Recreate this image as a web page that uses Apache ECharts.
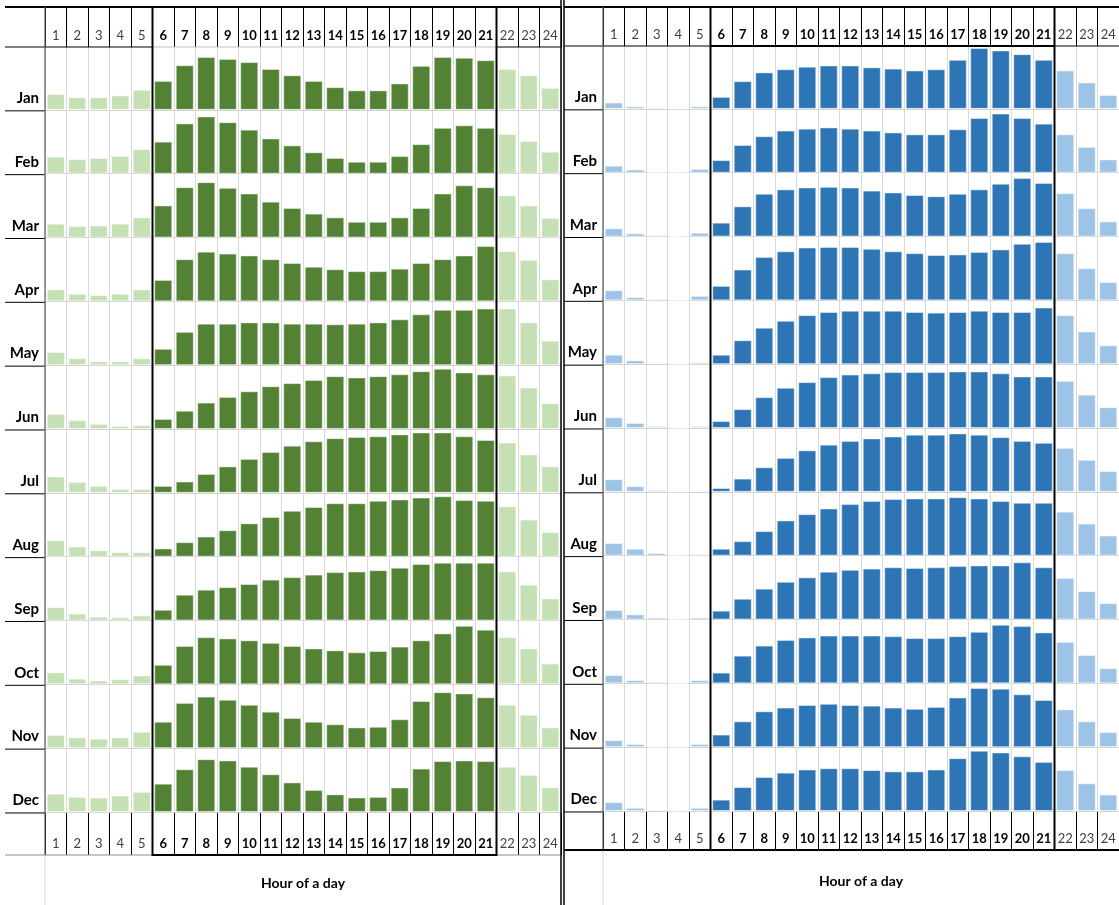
<!DOCTYPE html>
<html>
<head>
<meta charset="utf-8">
<title>Hour of a day by month</title>
<script src="https://cdn.jsdelivr.net/npm/echarts@6/dist/echarts.min.js"></script>
<style>
html, body { margin: 0; padding: 0; background: #fff; }
#chart { width: 1119px; height: 905px; }
</style>
</head>
<body>
<div id="chart"></div>
<script>
// hour labels and month names
var hours = ['1','2','3','4','5','6','7','8','9','10','11','12','13','14','15','16','17','18','19','20','21','22','23','24'];
var months = ['Jan','Feb','Mar','Apr','May','Jun','Jul','Aug','Sep','Oct','Nov','Dec'];
var peakFrom = 6, peakTo = 21;

// left panel (green), share of cell height
var greenJan = [25,20,20,23,32,46,71,84,81,76,65,55,46,36,31,31,42,70,84,83,79,65,55,35];
var greenFeb = [27,23,25,28,39,51,80,91,82,70,56,45,34,25,19,19,28,47,73,77,73,63,52,35];
var greenMar = [22,18,19,22,32,51,80,88,79,70,57,47,38,32,25,25,32,47,70,83,80,67,51,31];
var greenApr = [19,12,10,12,19,34,67,79,76,73,67,61,55,51,48,48,52,61,67,73,88,80,66,35];
var greenMay = [21,11,6,6,11,26,53,66,66,68,68,66,66,65,66,68,73,81,88,88,90,90,68,39];
var greenJun = [24,14,8,5,6,16,29,42,51,60,68,73,78,84,82,84,87,92,96,90,87,85,66,41];
var greenJul = [26,17,11,6,6,11,18,30,42,54,65,75,82,87,89,90,93,96,96,90,84,80,61,42];
var greenAug = [26,16,10,7,7,13,23,32,42,53,63,73,79,85,85,89,91,94,96,90,89,80,59,39];
var greenSep = [21,11,6,5,8,17,41,49,53,58,65,69,73,77,78,80,84,90,92,92,92,78,57,35];
var greenOct = [19,9,6,8,14,31,61,75,73,70,66,61,57,54,51,53,60,70,81,93,87,75,57,33];
var greenNov = [21,17,15,17,26,42,72,82,77,69,58,48,42,38,33,34,46,75,89,87,81,69,53,33];
var greenDec = [29,24,23,26,32,45,68,84,82,72,60,47,35,28,23,24,39,69,81,82,81,72,59,39];

// right panel (blue)
var blueJan = [10,4,2,0,4,19,44,58,63,67,69,69,66,64,61,63,78,97,93,87,78,61,42,22];
var blueFeb = [11,5,0,0,6,20,44,58,67,70,72,70,67,64,61,61,69,87,94,87,78,61,41,21];
var blueMar = [13,5,2,0,6,22,48,68,75,78,79,78,73,70,66,64,68,75,84,93,85,69,45,24];
var blueApr = [16,5,2,0,7,23,49,69,78,84,85,85,82,78,75,72,73,77,81,90,93,75,51,29];
var blueMay = [15,6,2,0,3,15,38,58,69,78,83,85,85,85,83,82,83,85,83,83,90,78,52,30];
var blueJun = [17,8,3,0,3,11,30,49,64,73,81,85,87,89,89,89,90,90,87,82,82,75,53,33];
var blueJul = [20,9,3,0,2,6,21,39,54,66,75,81,85,88,91,91,93,91,87,81,78,70,51,33];
var blueAug = [20,11,4,0,2,11,23,39,56,66,75,82,87,90,91,91,93,91,87,84,84,70,51,32];
var blueSep = [15,8,3,0,3,14,33,49,60,67,76,79,81,83,82,83,85,86,86,91,83,66,45,26];
var blueOct = [13,5,2,0,5,17,44,60,69,73,76,76,76,75,72,72,75,82,93,91,81,66,45,24];
var blueNov = [11,5,0,0,5,20,41,57,63,67,69,67,66,63,61,64,79,94,93,84,75,60,41,24];
var blueDec = [14,5,2,0,5,18,38,54,61,66,68,68,65,63,63,66,84,96,93,87,78,65,44,26];

var greenRows = [greenJan, greenFeb, greenMar, greenApr, greenMay, greenJun, greenJul, greenAug, greenSep, greenOct, greenNov, greenDec];
var blueRows = [blueJan, blueFeb, blueMar, blueApr, blueMay, blueJun, blueJul, blueAug, blueSep, blueOct, blueNov, blueDec];

var COL_W = 21.5;
var PLOT_W = COL_W * 24;
var ROW_H = 63.83;
var FONT = 'Lato, "Noto Sans", sans-serif';

var panels = [
  { rows: greenRows, dark: '#548235', light: '#C5E0B4', x0: 5, x1: 561, left: 45, top: 47, bottom: 855, titleY: 883 },
  { rows: blueRows, dark: '#2E75B6', light: '#9DC3E6', x0: 564, x1: 1119, left: 603, top: 46, bottom: 850, titleY: 881 }
];

function isPeak(i) { return i + 1 >= peakFrom && i + 1 <= peakTo; }

var grid = [], xAxis = [], yAxis = [], series = [], graphic = [];

function addHeader(top, h, p) {
  var gi = grid.length;
  grid.push({ left: p.left, top: top, width: PLOT_W, height: h });
  xAxis.push({
    type: 'category', gridIndex: gi, data: hours,
    axisLine: { show: false }, axisTick: { show: false },
    axisLabel: {
      inside: true, interval: 0, margin: 5,
      formatter: function (v, i) { return isPeak(i) ? '{b|' + v + '}' : '{n|' + v + '}'; },
      rich: {
        b: { fontFamily: FONT, fontSize: 13, fontWeight: 'bold', color: '#000' },
        n: { fontFamily: FONT, fontSize: 13, color: '#404040' }
      }
    },
    splitLine: { show: true, interval: 0, lineStyle: { color: '#000', width: 1 } }
  });
  yAxis.push({ type: 'value', gridIndex: gi, show: false });
}

function line(x1, y1, x2, y2, color, w) {
  graphic.push({ type: 'line', z: 100, silent: true,
    shape: { x1: x1, y1: y1, x2: x2, y2: y2 },
    style: { stroke: color, lineWidth: w } });
}

panels.forEach(function (p) {
  addHeader(7, p.top - 7, p);

  p.rows.forEach(function (vals, r) {
    var gi = grid.length;
    grid.push({ left: p.left, top: p.top + r * ROW_H, width: PLOT_W, height: ROW_H - 1 });
    xAxis.push({
      type: 'category', gridIndex: gi, data: hours,
      axisLine: { lineStyle: { color: '#d4d4d4' } },
      axisTick: { show: false }, axisLabel: { show: false },
      splitLine: { show: true, interval: 0, lineStyle: { color: '#d9d9d9' } }
    });
    yAxis.push({ type: 'value', gridIndex: gi, min: 0, max: 100, show: false });
    series.push({
      type: 'bar', xAxisIndex: gi, yAxisIndex: gi, data: vals,
      barCategoryGap: '16%', silent: true,
      itemStyle: {
        color: function (d) { return isPeak(d.dataIndex) ? p.dark : p.light; },
        borderColor: 'rgba(255,255,255,0.45)', borderWidth: 1
      }
    });
    graphic.push({ type: 'text', z: 100, silent: true,
      x: p.left - 6, y: p.top + (r + 1) * ROW_H - 5,
      style: { text: months[r], font: 'bold 15px ' + FONT, fill: '#000', align: 'right', verticalAlign: 'bottom' } });
    line(p.x0, p.top + (r + 1) * ROW_H, p.left, p.top + (r + 1) * ROW_H, '#000', 1);
  });

  addHeader(p.top + 12 * ROW_H, p.bottom - (p.top + 12 * ROW_H), p);

  var px0 = p.left + (peakFrom - 1) * COL_W;
  var px1 = p.left + peakTo * COL_W;

  line(p.x0, 7, p.x1, 7, '#000', 2);
  line(p.x0, p.top, px0, p.top, '#000', 1);
  line(px0, p.top, px1, p.top, p === panels[0] ? '#bfbfbf' : '#000', p === panels[0] ? 1 : 2);
  line(px1, p.top, p.x1, p.top, '#000', 1);
  line(p.left, 7, p.left, p.bottom, '#595959', 1.2);
  line(p.left, p.bottom, p.left, 905, '#d9d9d9', 1);
  line(p.x0, p.bottom, p.x1, p.bottom, p === panels[0] ? '#8c8c8c' : '#000', p === panels[0] ? 1 : 2);
  graphic.push({ type: 'rect', z: 101, silent: true,
    shape: { x: px0, y: 7, width: px1 - px0, height: p.bottom - 7 },
    style: { fill: 'none', stroke: '#000', lineWidth: 2 } });
  graphic.push({ type: 'text', z: 100, silent: true,
    x: p.left + PLOT_W / 2, y: p.titleY,
    style: { text: 'Hour of a day', font: 'bold 14px ' + FONT, fill: '#000', align: 'center', verticalAlign: 'middle' } });
});

line(561, 0, 561, 905, '#000', 1.5);
line(564, 0, 564, 905, '#000', 1.5);

var myChart = echarts.init(document.getElementById('chart'));
myChart.setOption({
  animation: false,
  backgroundColor: '#fff',
  grid: grid,
  xAxis: xAxis,
  yAxis: yAxis,
  series: series,
  graphic: graphic
});
</script>
</body>
</html>
